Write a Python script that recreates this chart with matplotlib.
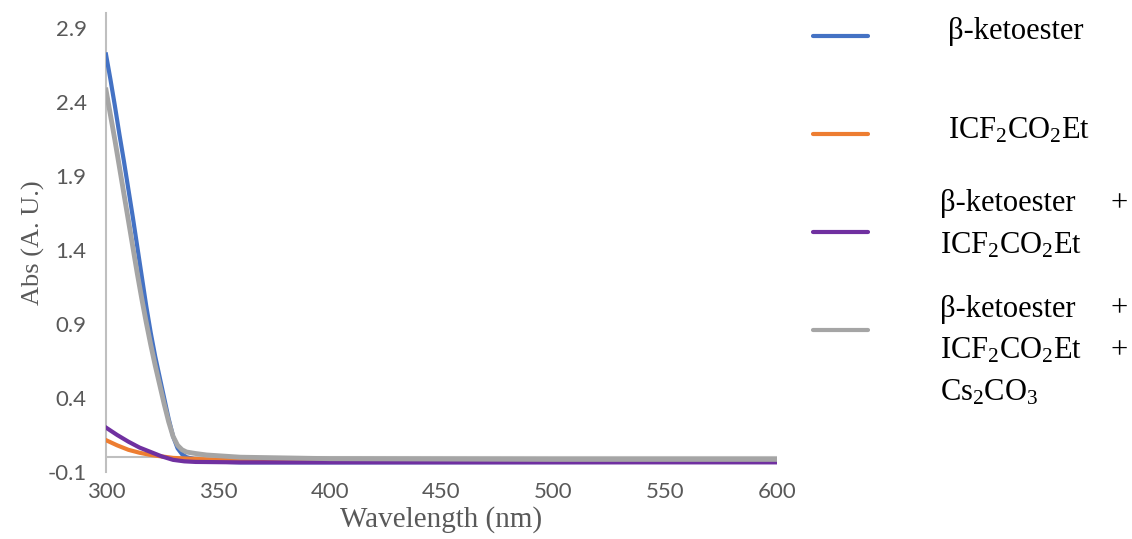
import matplotlib
matplotlib.use("Agg")
import matplotlib.pyplot as plt
from matplotlib.lines import Line2D

plt.rcParams["mathtext.fontset"] = "custom"
plt.rcParams["mathtext.rm"] = "Liberation Serif"
plt.rcParams["mathtext.it"] = "Liberation Serif:italic"

# blue: beta-ketoester
wl_blue = [300, 302, 304, 306, 308, 310, 312, 314, 316, 318, 320, 322, 324, 326,
           328, 330, 332, 334, 336, 340, 345, 350, 360, 400, 500, 600]
abs_blue = [2.72, 2.55, 2.37, 2.18, 2.0, 1.81, 1.62, 1.42, 1.22, 1.02, 0.84, 0.68,
            0.54, 0.40, 0.26, 0.14, 0.06, 0.02, 0.0, -0.015, -0.025, -0.03, -0.035,
            -0.035, -0.033, -0.03]

# orange: ICF2CO2Et
wl_orange = [300, 305, 310, 315, 320, 325, 330, 340, 350, 400, 600]
abs_orange = [0.115, 0.08, 0.05, 0.03, 0.015, 0.005, -0.005, -0.012, -0.018, -0.025, -0.028]

# purple: beta-ketoester + ICF2CO2Et
wl_purple = [300, 305, 310, 315, 320, 325, 330, 335, 340, 360, 600]
abs_purple = [0.2, 0.15, 0.105, 0.065, 0.035, 0.005, -0.018, -0.028, -0.032, -0.035, -0.035]

# gray: beta-ketoester + ICF2CO2Et + Cs2CO3
wl_gray = [300, 302, 304, 306, 308, 310, 312, 314, 316, 318, 320, 322, 324, 326,
           328, 330, 332, 334, 336, 340, 345, 350, 360, 400, 500, 600]
abs_gray = [2.48, 2.31, 2.14, 1.96, 1.78, 1.60, 1.42, 1.24, 1.07, 0.91, 0.76, 0.62,
            0.49, 0.36, 0.24, 0.14, 0.08, 0.05, 0.035, 0.025, 0.015, 0.01, 0.0,
            -0.01, -0.015, -0.015]

x_ticks = [300, 350, 400, 450, 500, 550, 600]
y_ticks = [-0.1, 0.4, 0.9, 1.4, 1.9, 2.4, 2.9]

c_blue = "#4472C4"
c_orange = "#ED7D31"
c_purple = "#7030A0"
c_gray = "#A5A5A5"
axis_gray = "#BFBFBF"
text_gray = "#595959"

fig = plt.figure(figsize=(11.32, 5.39), dpi=100)
ax = fig.add_axes([106 / 1132, 1 - 472 / 539, 671 / 1132, 459 / 539])

ax.axhline(0, color=axis_gray, lw=1.5, zorder=1)
ax.plot(wl_blue, abs_blue, color=c_blue, lw=3, zorder=3)
ax.plot(wl_orange, abs_orange, color=c_orange, lw=3, zorder=3)
ax.plot(wl_purple, abs_purple, color=c_purple, lw=3, zorder=4)
ax.plot(wl_gray, abs_gray, color=c_gray, lw=3.5, zorder=5)

ax.set_xlim(300, 600)
ax.set_ylim(-0.1, 3.0)
ax.set_xticks(x_ticks)
ax.set_yticks(y_ticks)
ax.set_xticklabels([str(v) for v in x_ticks])
ax.set_yticklabels([f"{v:.1f}" for v in y_ticks])

for s in ["top", "right", "bottom"]:
    ax.spines[s].set_visible(False)
ax.spines["left"].set_color(axis_gray)
ax.spines["left"].set_linewidth(1.5)
ax.tick_params(length=0, labelsize=16, labelcolor=text_gray)
ax.tick_params(axis="y", pad=14)
ax.tick_params(axis="x", pad=7)
for lab in ax.get_xticklabels() + ax.get_yticklabels():
    lab.set_family("Lato")

ax.set_xlabel("Wavelength (nm)", family="Liberation Serif", fontsize=21,
              color=text_gray, labelpad=3)
ax.set_ylabel("Abs (A. U.)", family="Liberation Serif", fontsize=19,
              color=text_gray, labelpad=2)

# legend drawn by hand to keep the justified multi-line layout
W, H = 1132, 539
leg_kw = dict(family="Liberation Serif", fontsize=22, color="black", va="center")
entries = [
    (c_blue, 36, [(948, 31, r"β-ketoester", False)]),
    (c_orange, 134, [(948, 131, r"ICF$_\mathrm{2}$CO$_\mathrm{2}$Et", False)]),
    (c_purple, 232, [(940, 204, r"β-ketoester", True),
                     (940, 246, r"ICF$_\mathrm{2}$CO$_\mathrm{2}$Et", False)]),
    (c_gray, 330, [(940, 309, r"β-ketoester", True),
                   (940, 351, r"ICF$_\mathrm{2}$CO$_\mathrm{2}$Et", True),
                   (940, 393, r"Cs$_\mathrm{2}$CO$_\mathrm{3}$", False)]),
]
for color, ly, lines in entries:
    fig.add_artist(Line2D([813 / W, 868 / W], [1 - ly / H, 1 - ly / H],
                          color=color, lw=3, solid_capstyle="round"))
    for tx, ty, txt, plus in lines:
        fig.text(tx / W, 1 - ty / H, txt, ha="left", **leg_kw)
        if plus:
            fig.text(1128 / W, 1 - ty / H, "+", ha="right", **leg_kw)

fig.savefig("out.png", dpi=100)
